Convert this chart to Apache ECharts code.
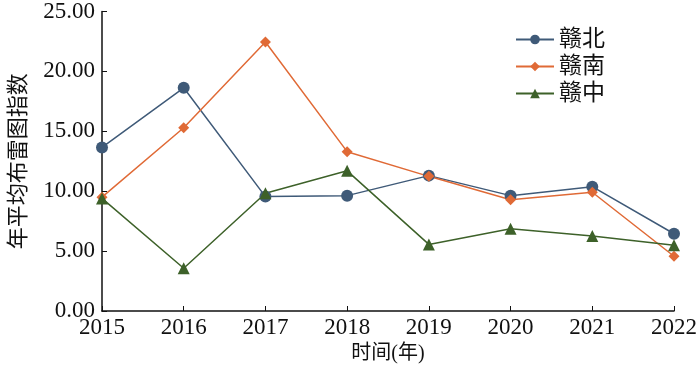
<!DOCTYPE html>
<html>
<head>
<meta charset="utf-8">
<script src="https://cdn.jsdelivr.net/npm/echarts@6/dist/echarts.min.js"></script>
<style>
html,body{margin:0;padding:0;background:#fff;}
#chart{width:700px;height:370px;}
</style>
</head>
<body>
<div id="chart"></div>
<script>
var years = ['2015', '2016', '2017', '2018', '2019', '2020', '2021', '2022'];
var ganBei = [13.65, 18.63, 9.55, 9.63, 11.30, 9.63, 10.38, 6.45];
var ganNan = [9.50, 15.30, 22.45, 13.30, 11.24, 9.28, 9.91, 4.57];
var ganZhong = [9.40, 3.57, 9.83, 11.70, 5.56, 6.87, 6.26, 5.48];

var serif = '"Liberation Serif", "Noto Sans CJK SC", serif';
var myChart = echarts.init(document.getElementById('chart'));
var option = {
    animation: false,
    backgroundColor: '#fff',
    textStyle: { fontFamily: serif, color: '#111' },
    legend: {
        orient: 'vertical',
        left: 510,
        top: 23,
        itemWidth: 38,
        itemHeight: 12,
        itemGap: 4,
        textStyle: { fontFamily: serif, fontSize: 23, color: '#111' },
        data: ['赣北', '赣南', '赣中']
    },
    grid: { left: 98, right: 24, top: 10, bottom: 59 },
    xAxis: {
        type: 'category',
        data: years,
        boundaryGap: false,
        name: '时间(年)',
        nameLocation: 'middle',
        nameGap: 32,
        nameTextStyle: { fontSize: 20, color: '#111', verticalAlign: 'top' },
        axisLine: { lineStyle: { color: '#111', width: 1.5 } },
        axisTick: { inside: true, length: 5, lineStyle: { color: '#111' } },
        axisLabel: { fontSize: 23, color: '#111', margin: 5 }
    },
    yAxis: {
        type: 'value',
        min: 0,
        max: 25,
        interval: 5,
        name: '年平均布雷图指数',
        nameLocation: 'middle',
        nameGap: 72,
        nameTextStyle: { fontSize: 22, color: '#111' },
        splitLine: { show: false },
        axisLine: { show: true, lineStyle: { color: '#111', width: 1.5 } },
        axisTick: { show: true, inside: true, length: 5, lineStyle: { color: '#111' } },
        axisLabel: {
            fontSize: 23,
            color: '#111',
            margin: 7,
            formatter: function (v) { return v.toFixed(2); }
        }
    },
    series: [
        {
            name: '赣北',
            type: 'line',
            data: ganBei,
            symbol: 'circle',
            symbolSize: 12,
            itemStyle: { color: '#3f5a78' },
            lineStyle: { color: '#3f5a78', width: 1.5 }
        },
        {
            name: '赣南',
            type: 'line',
            data: ganNan,
            symbol: 'diamond',
            symbolSize: 11,
            itemStyle: { color: '#e06a36' },
            lineStyle: { color: '#e06a36', width: 1.5 }
        },
        {
            name: '赣中',
            type: 'line',
            data: ganZhong,
            symbol: 'triangle',
            symbolSize: 12,
            itemStyle: { color: '#3d6129' },
            lineStyle: { color: '#3d6129', width: 1.5 }
        }
    ]
};
myChart.setOption(option);
</script>
</body>
</html>
